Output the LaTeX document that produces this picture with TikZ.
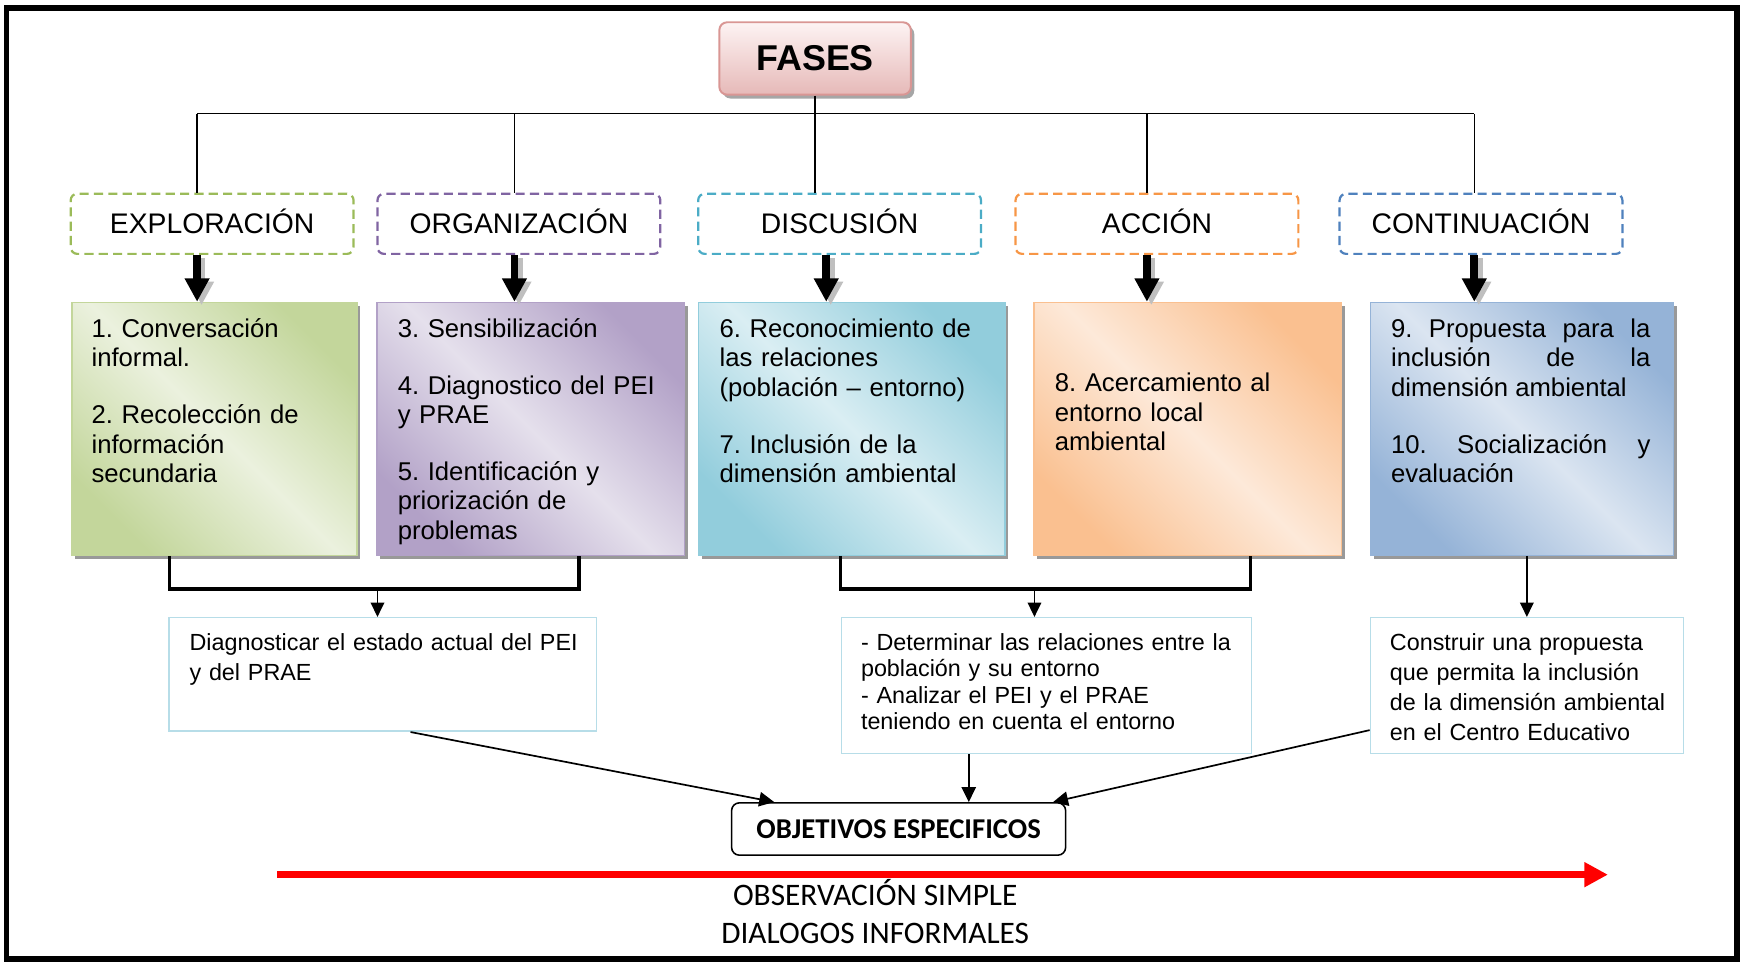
\documentclass[tikz,border=0pt]{standalone}
\usepackage{fontspec}
\setmainfont{Liberation Sans}
\newfontfamily\calibri{Carlito}
\usetikzlibrary{arrows.meta,shadows}
\definecolor{verde}{HTML}{9BBB59}
\definecolor{verdeA}{HTML}{C3D69B}
\definecolor{verdeB}{HTML}{EBF1DE}
\definecolor{morado}{HTML}{8064A2}
\definecolor{moradoA}{HTML}{B2A1C7}
\definecolor{moradoB}{HTML}{E5E0EC}
\definecolor{celeste}{HTML}{4BACC6}
\definecolor{celesteA}{HTML}{92CDDC}
\definecolor{celesteB}{HTML}{DAEEF3}
\definecolor{naranja}{HTML}{F79646}
\definecolor{naranjaA}{HTML}{FAC090}
\definecolor{naranjaB}{HTML}{FDE9D9}
\definecolor{azul}{HTML}{4F81BD}
\definecolor{azulA}{HTML}{95B3D7}
\definecolor{azulB}{HTML}{DBE5F1}
\definecolor{rosa}{HTML}{D99694}
\definecolor{rosaA}{HTML}{FDF3F3}
\definecolor{rosaB}{HTML}{E6B9B8}
\definecolor{borde}{HTML}{B7DDE8}
\frenchspacing

\begin{document}
\begin{tikzpicture}[x=0.3mm,y=-0.3mm,
    titulo/.style={draw=rosa,line width=1.5pt,rounded corners=6pt,top color=rosaA,bottom color=rosaB,
      minimum width=51.6mm,minimum height=19.5mm,font=\bfseries\fontsize{27.5}{31}\selectfont,
      drop shadow={shadow xshift=2.6pt,shadow yshift=-3pt,opacity=1,fill=black!35}},
    fase/.style={draw=#1,fill=white,line width=1.7pt,dash pattern=on 7pt off 4pt,rounded corners=5pt,
      minimum width=76.2mm,minimum height=16.2mm,inner sep=0pt,text height=5.2mm,text depth=0pt,
      font=\fontsize{21.7}{25}\selectfont},
    lista/.style={draw=#1A,line width=1pt,top color=#1A,bottom color=#1A,middle color=#1B,shading angle=-45,
      anchor=north west,inner sep=0pt,minimum height=68.1mm,
      drop shadow={shadow xshift=2.6pt,shadow yshift=-3pt,opacity=1,fill=black!40}},
    texto/.style={anchor=base west,align=left,text width=75mm,inner sep=0pt,font=\fontsize{19.7}{22.6}\selectfont},
    objetivo/.style={draw=borde,line width=1.2pt,anchor=north west,inner sep=0pt},
    obtexto/.style={anchor=base west,align=left,text width=120mm,inner sep=0pt,font=\fontsize{17.9}{23}\selectfont},
    bus/.style={line width=1.2pt},
    llave/.style={line width=2.4pt},
    bigarrow/.style={line width=6pt,-{Triangle[width=18pt,length=18pt]}},
    flecha/.style={line width=1pt,-{Triangle[width=10.5pt,length=11pt]}},
    flecha2/.style={line width=1.3pt,-{Triangle[width=11pt,length=11.5pt]}}]
  \useasboundingbox (0,0) rectangle (1568,864);
  % Frame
  \coordinate (m1) at (6,7);
  \coordinate (m2) at (1560,861);
  \draw[line width=4.3pt] (m1) rectangle (m2);
  % Phases
  \node[titulo] (fases) at (732,52.5) {FASES};
  \node[fase=verde] (explo) at (190.5,201) {EXPLORACIÓN};
  \node[fase=morado] (organ) at (466,201) {ORGANIZACIÓN};
  \node[fase=celeste] (discu) at (754,201) {DISCUSIÓN};
  \node[fase=naranja] (accion) at (1039,201) {ACCIÓN};
  \node[fase=azul] (conti) at (1330,201) {CONTINUACIÓN};
  % Tree
  \coordinate (busL) at (177,102);
  \coordinate (busR) at (1324,102);
  \draw[bus] (busL) -- (busR);
  \draw[bus] (fases.south) -- (fases.south |- discu.north);
  \foreach \n/\x in {explo/177,organ/462,accion/1030,conti/1324}{
    \coordinate (r) at (\x,102);
    \draw[bus] (r) -- (r |- \n.north);
  }
  % Activities
  \node[lista=verde,minimum width=76.8mm] (lista1) at (64,271) {};
  \node[lista=morado,minimum width=82.8mm] (lista2) at (338,271) {};
  \node[lista=celeste,minimum width=82.5mm] (lista3) at (627,271) {};
  \node[lista=naranja,minimum width=82.8mm] (lista4) at (928,271) {};
  \node[lista=azul,minimum width=81.6mm] (lista5) at (1230,271) {};
  \node[texto] (t1) at (82,303) {1. Conversación\\informal.\\[20.9pt]2. Recolección de\\información\\secundaria};
  \node[texto] (t2) at (357,303) {3. Sensibilización\\[20.9pt]4. Diagnostico del PEI\\y PRAE\\[20.9pt]5. Identificación y\\priorización de\\problemas};
  \node[texto] (t3) at (646,303) {6. Reconocimiento de\\las relaciones\\(población – entorno)\\[20.9pt]7. Inclusión de la\\dimensión ambiental};
  \node[texto] (t4) at (947,352) {8. Acercamiento al\\entorno local\\ambiental};
  \node[texto,text width=69.9mm,align=justify] (t5) at (1249,303) {9. Propuesta para la\linebreak inclusión de la\linebreak dimensión ambiental\\[20.9pt]10. Socialización y\linebreak evaluación};
  % Arrows
  \foreach \i/\n/\x in {1/explo/177,2/organ/462,3/discu/742,4/accion/1030,5/conti/1324}{
    \coordinate (f\i) at (\x,0);
    \draw[bigarrow,black!25,transform canvas={xshift=3.4pt,yshift=-2.6pt}] (f\i |- \n.south) -- (f\i |- lista\i.north);
    \draw[bigarrow] (f\i |- \n.south) -- (f\i |- lista\i.north);
  }
  % Objectives
  \node[objetivo,minimum width=115.2mm,minimum height=30.6mm] (obj1) at (151,554) {};
  \node[objetivo,minimum width=110.4mm,minimum height=36.6mm] (obj2) at (755,554) {};
  \node[objetivo,minimum width=84.3mm,minimum height=36.6mm] (obj3) at (1230,554) {};
  \node[obtexto] (d1) at (170,584) {Diagnosticar el estado actual del PEI\\y del PRAE};
  \node[obtexto,font=\fontsize{17.9}{20.2}\selectfont] (d2) at (773,584) {- Determinar las relaciones entre la\\población y su entorno\\- Analizar el PEI y el PRAE\\teniendo en cuenta el entorno};
  \node[obtexto] (d3) at (1248,584) {Construir una propuesta\\que permita la inclusión\\de la dimensión ambiental\\en el Centro Educativo};
  % Brackets
  \coordinate (k1) at (152,529);
  \coordinate (k2) at (520,529);
  \coordinate (k3) at (755,529);
  \coordinate (k4) at (1123,529);
  \draw[llave] (k1 |- lista1.south) -- (k1) -- (k2) -- (k2 |- lista2.south);
  \draw[llave] (k3 |- lista3.south) -- (k3) -- (k4) -- (k4 |- lista4.south);
  \coordinate (u1) at (339,529);
  \coordinate (u2) at (929,529);
  \draw[flecha] (u1) -- (u1 |- obj1.north);
  \draw[flecha] (u2) -- (u2 |- obj2.north);
  \draw[flecha] (lista5.south -| obj3.north) -- (obj3.north);
  % Specific objectives
  \node[draw,line width=1.2pt,rounded corners=6pt,minimum width=90mm,minimum height=14.1mm,
    font=\calibri\bfseries\fontsize{22}{26}\selectfont] (objetivos) at (807,744.5) {OBJETIVOS ESPECIFICOS};
  \coordinate (v) at ([shift={(63,0)}]objetivos.north);
  \draw[flecha2] ([shift={(25,0)}]obj1.south) -- ([shift={(39,0)}]objetivos.north west);
  \draw[flecha2] (v |- obj2.south) -- (v);
  \draw[flecha2] ([shift={(0,40)}]obj3.west) -- ([shift={(-12,0)}]objetivos.north east);
  % Techniques
  \coordinate (rojo1) at (249,785.5);
  \coordinate (rojo2) at (1444,785.5);
  \draw[line width=5.5pt,red,-{Triangle[width=18pt,length=18pt]}] (rojo1) -- (rojo2);
  \node[font=\calibri\fontsize{24}{28}\selectfont,anchor=base] (obs1) at (786,813) {OBSERVACIÓN SIMPLE};
  \node[font=\calibri\fontsize{24}{28}\selectfont,anchor=base] (obs2) at (786,847) {DIALOGOS INFORMALES};
\end{tikzpicture}
\end{document}
